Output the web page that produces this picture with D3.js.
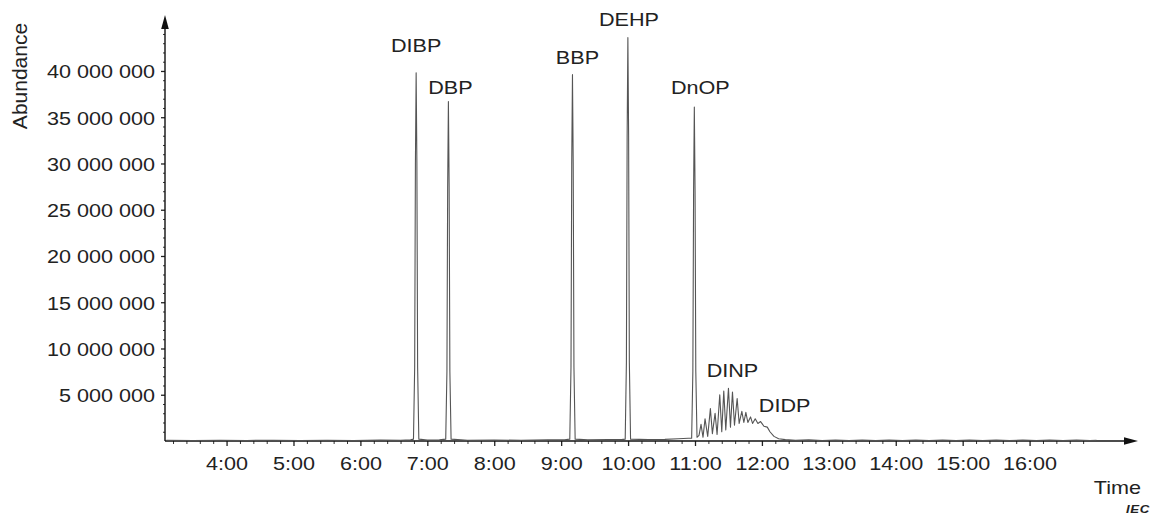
<!DOCTYPE html>
<html>
<head>
<meta charset="utf-8">
<script src="https://cdn.jsdelivr.net/npm/d3@7"></script>
<style>
  html, body { margin: 0; padding: 0; background: #fff; }
  svg { display: block; }
  text { font-family: "Liberation Sans", Arial, Helvetica, sans-serif; fill: #222; }
</style>
</head>
<body>
<svg id="chart" width="1158" height="519"></svg>
<script>
// ---- data (time in minutes, abundance in millions) ----
const xTickMinutes = [4, 5, 6, 7, 8, 9, 10, 11, 12, 13, 14, 15, 16];
const yTickMillions = [5, 10, 15, 20, 25, 30, 35, 40];
const peakNames = ["DIBP", "DBP", "BBP", "DEHP", "DnOP", "DINP", "DIDP"];
const peakTimes = [6.833, 7.315, 9.169, 9.997, 10.990, 11.56, 12.34];
const peakLabelLevels = [42.0, 37.5, 40.8, 44.9, 37.5, 6.9, 3.1];

const trace = [
  [3.10, 0.08], [3.50, 0.05], [3.90, 0.08], [4.30, 0.06], [4.70, 0.08], [5.10, 0.06],
  [5.50, 0.08], [5.90, 0.06], [6.30, 0.09], [6.60, 0.08], [6.75, 0.12],
  [6.793, 0.20], [6.811, 8.0], [6.822, 30.0], [6.833, 39.8], [6.844, 30.0], [6.855, 8.0], [6.873, 0.20],
  [7.00, 0.10], [7.18, 0.12],
  [7.275, 0.20], [7.293, 7.5], [7.304, 27.5], [7.315, 36.7], [7.326, 27.5], [7.337, 7.5], [7.355, 0.20],
  [7.60, 0.08], [8.00, 0.10], [8.40, 0.08], [8.80, 0.12], [9.05, 0.14],
  [9.129, 0.20], [9.147, 8.0], [9.158, 30.0], [9.169, 39.6], [9.180, 30.0], [9.191, 8.0], [9.209, 0.20],
  [9.40, 0.12], [9.70, 0.15], [9.90, 0.15],
  [9.957, 0.20], [9.975, 8.5], [9.986, 33.0], [9.997, 43.6], [10.008, 33.0], [10.019, 8.5], [10.037, 0.20],
  [10.30, 0.15], [10.55, 0.18], [10.75, 0.25], [10.90, 0.30],
  [10.950, 0.30], [10.968, 7.5], [10.979, 27.0], [10.990, 36.1], [11.001, 27.0], [11.012, 7.5], [11.030, 0.40],
  [11.06, 0.6], [11.09, 1.8], [11.12, 0.4], [11.15, 2.4], [11.19, 0.5], [11.23, 3.5], [11.26, 0.8],
  [11.30, 3.0], [11.33, 0.7], [11.37, 5.0], [11.40, 1.0], [11.43, 5.4], [11.46, 1.2], [11.50, 5.7],
  [11.53, 1.5], [11.56, 5.3], [11.59, 1.7], [11.63, 4.6], [11.66, 1.9], [11.70, 3.2], [11.73, 2.0],
  [11.76, 3.1], [11.79, 2.0], [11.83, 2.6], [11.86, 1.9], [11.90, 2.4], [11.94, 1.9], [11.98, 2.1],
  [12.03, 1.6], [12.08, 1.5], [12.12, 1.0], [12.18, 0.5], [12.25, 0.25], [12.35, 0.15],
  [12.50, 0.08], [12.70, 0.12], [12.90, 0.05], [13.10, 0.11], [13.30, 0.04], [13.50, 0.10],
  [13.70, 0.05], [13.90, 0.11], [14.10, 0.04], [14.30, 0.10], [14.50, 0.05], [14.70, 0.10],
  [14.90, 0.04], [15.10, 0.10], [15.30, 0.05], [15.50, 0.10], [15.70, 0.04], [15.90, 0.10],
  [16.10, 0.05], [16.30, 0.10], [16.50, 0.04], [16.70, 0.09], [16.90, 0.05], [17.00, 0.08]
];

// ---- layout ----
const svg = d3.select("#chart");
const x = d3.scaleLinear().domain([3.08, 17.62]).range([165, 1138]);
const y = d3.scaleLinear().domain([0, 46.05]).range([441, 15]);
const fmt = d3.formatLocale({ decimal: ".", thousands: " ", grouping: [3], currency: ["", ""] }).format(",");
const SX = 1.2; // horizontal text stretch seen in the reference

// minor ticks
const xMinor = d3.range(3.2, 17.01, 0.2).filter(v => Math.abs(v - Math.round(v)) > 0.01);
const yMinor = d3.range(1, 46, 1).filter(v => v % 5 !== 0);

const gxMinor = svg.append("g").attr("transform", "translate(0,441)")
  .call(d3.axisBottom(x).tickValues(xMinor).tickSize(3).tickFormat(""));
gxMinor.select(".domain").remove();
gxMinor.selectAll("line").attr("stroke", "#333").attr("stroke-width", 1);

const gyMinor = svg.append("g").attr("transform", "translate(165,0)")
  .call(d3.axisLeft(y).tickValues(yMinor).tickSize(2).tickFormat(""));
gyMinor.select(".domain").remove();
gyMinor.selectAll("line").attr("stroke", "#333").attr("stroke-width", 1);

// major x axis
const gx = svg.append("g").attr("transform", "translate(0,441)")
  .call(d3.axisBottom(x).tickValues(xTickMinutes).tickSize(5).tickFormat(d => d + ":00"));
gx.select(".domain").remove();
gx.selectAll("line").attr("stroke", "#222").attr("stroke-width", 1.3);
gx.selectAll("text")
  .attr("y", 0).attr("dy", null)
  .attr("transform", `translate(0,29) scale(${SX},1)`)
  .attr("font-size", 18).attr("fill", "#222");

// major y axis
const gy = svg.append("g").attr("transform", "translate(165,0)")
  .call(d3.axisLeft(y).tickValues(yTickMillions).tickSize(4).tickFormat(d => fmt(d * 1e6)));
gy.select(".domain").remove();
gy.selectAll("line").attr("stroke", "#222").attr("stroke-width", 1.3);
gy.selectAll("text")
  .attr("x", 0).attr("dy", "0.38em")
  .attr("transform", `translate(-10,0) scale(${SX},1)`)
  .attr("font-size", 18).attr("fill", "#222");

// axis lines with arrowheads
const axisColor = "#111";
svg.append("line").attr("x1", x.range()[0]).attr("x2", x.range()[1] - 10)
  .attr("y1", y(0)).attr("y2", y(0)).attr("stroke", axisColor).attr("stroke-width", 1.6);
svg.append("line").attr("x1", x.range()[0]).attr("x2", x.range()[0])
  .attr("y1", y(0)).attr("y2", y.range()[1] + 10).attr("stroke", axisColor).attr("stroke-width", 1.4);
const xe = x.range()[1], y0 = y(0), x0 = x.range()[0], ye = y.range()[1];
svg.append("path").attr("d", `M${xe},${y0} L${xe - 14},${y0 - 3.8} L${xe - 14},${y0 + 3.8} Z`).attr("fill", axisColor);
svg.append("path").attr("d", `M${x0},${ye} L${x0 - 3.8},${ye + 14} L${x0 + 3.8},${ye + 14} Z`).attr("fill", axisColor);

// trace
const line = d3.line().x(d => x(d[0])).y(d => y(d[1]));
svg.append("path").datum(trace)
  .attr("d", line)
  .attr("fill", "none")
  .attr("stroke", "#555")
  .attr("stroke-width", 1.1)
  .attr("stroke-linejoin", "round");

// peak labels
const labelDx = [0, 2, 5, 1, 6, 0, 0];
peakNames.forEach((name, i) => {
  svg.append("g")
    .attr("transform", `translate(${x(peakTimes[i]) + labelDx[i]},${y(peakLabelLevels[i])}) scale(${SX},1)`)
    .append("text").attr("text-anchor", "middle").attr("font-size", 18).text(name);
});

// axis titles
svg.append("text")
  .attr("transform", "translate(27,76) rotate(-90)")
  .attr("text-anchor", "middle").attr("font-size", 21).text("Abundance");
svg.append("g").attr("transform", `translate(1141,494) scale(${SX},1)`)
  .append("text").attr("text-anchor", "end").attr("font-size", 18).text("Time");
svg.append("g").attr("transform", `translate(1150,513) scale(${SX},1)`)
  .append("text").attr("text-anchor", "end").attr("font-size", 11)
  .attr("font-weight", "bold").attr("font-style", "italic").attr("letter-spacing", 0.6).text("IEC");
</script>
</body>
</html>
